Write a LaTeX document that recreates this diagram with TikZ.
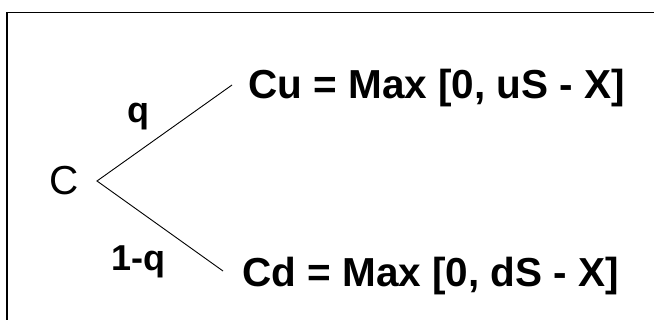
\documentclass[tikz,border=0pt]{standalone}
\usepackage{fontspec}
\setmainfont{Liberation Sans}
\begin{document}
\begin{tikzpicture}[x=1pt,y=-1pt,
  formula/.style={inner sep=0pt,anchor=base west,font=\fontsize{40.5}{44}\selectfont\bfseries},
  prob/.style={inner sep=0pt,anchor=base west,font=\fontsize{36}{40}\selectfont\bfseries},
  branch/.style={line width=0.9pt,black}]
\useasboundingbox (0,0) rectangle (654,320);
\fill[white] (0,0) rectangle (654,320);
% frame
\draw[line width=1.6pt] (7,320) -- (7,12.5) -- (654,12.5);
% nodes
\node[formula,font=\fontsize{40.5}{44}\selectfont] (C) at (49,195) {C};
\node[formula] (Cu) at (248,99) {Cu = Max [0, uS - X]};
\node[formula] (Cd) at (242,287) {Cd = Max [0, dS - X]};
\node[prob] (q) at (127,123) {q};
\node[prob] (q1) at (111,271) {1-q};
% branches
\coordinate (v) at (97,181);
\coordinate (ue) at (232,85);
\coordinate (de) at (223,271);
\draw[branch] (ue) -- (v) -- (de);
\end{tikzpicture}
\end{document}
